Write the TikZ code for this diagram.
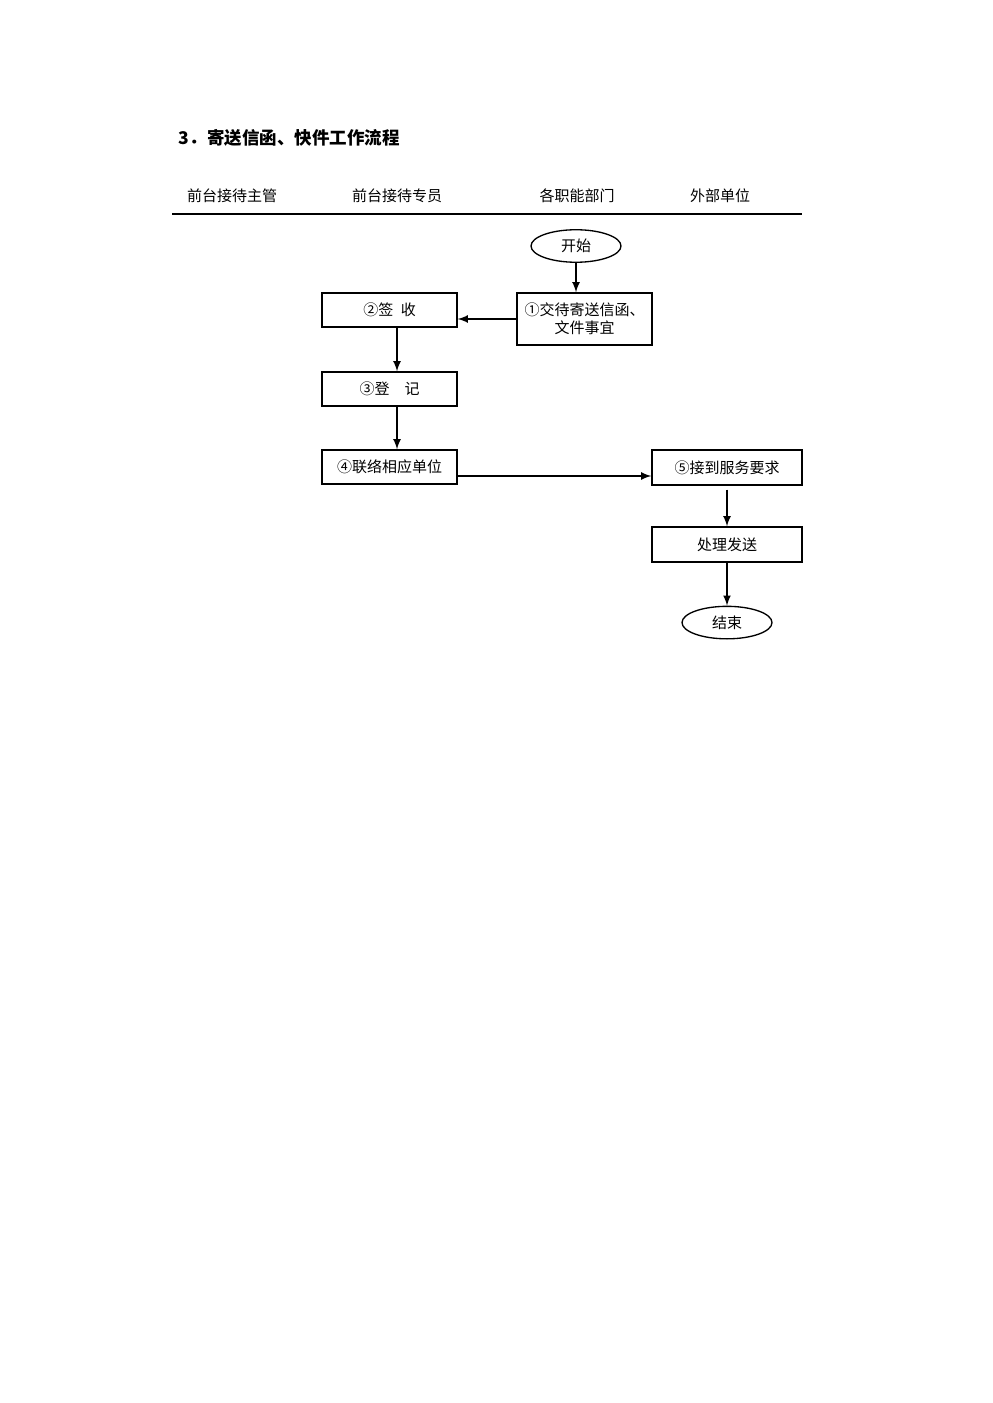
\documentclass[tikz,border=0pt]{standalone}
\usepackage{fontspec}
\newfontfamily\cjk{Noto Sans CJK SC}
\usetikzlibrary{arrows,shapes,positioning}
\begin{document}
\begin{tikzpicture}[x=0.6pt, y=-0.6pt, node distance=26.2pt,
                    font=\cjk\fontsize{9}{10.5}\selectfont]
        \tikzstyle{block} = [rectangle, draw, line width=0.8pt, inner sep=0pt,
                             minimum width=81pt, minimum height=20.4pt,
                             align=center]
        \tikzstyle{wide} = [block, minimum width=90pt, minimum height=21pt]
        \tikzstyle{term} = [ellipse, draw, line width=0.8pt, inner sep=0pt,
                            minimum width=54pt, minimum height=19.5pt]
        \tikzstyle{arrow} = [draw, -latex, line width=1.1pt]
        \useasboundingbox (0,0) rectangle (992,1403);
        \node[anchor=west, font=\cjk\bfseries\fontsize{10.5}{12}\selectfont]
          (title) at (173,138) {3．寄送信函、快件工作流程};
        % swim lanes
        \node (chief) at (232,196) {前台接待主管};
        \node (clerk) at (397,196) {前台接待专员};
        \node (dept) at (577,196) {各职能部门};
        \node (outer) at (720,196) {外部单位};
        \draw[line width=0.9pt] (172,214) -- (802,214);
        \node[term] (start) at (576,246) {开始};
        \node[block, minimum height=31.2pt] (hand) at (584.5,319)
          {①交待寄送信函、\\文件事宜};
        \path[arrow] (start.south) -- (start.south |- hand.north);
        \node[block] (sign) at (389.5,310) {②签\hspace{0.5em}收};
        \path[arrow] (hand.west) -- (hand.west -| sign.east);
        \node[block, below=of sign] (record) {③登\hspace{1em}记};
        \path[arrow] ([xshift=4.5pt]sign.south) -- ([xshift=4.5pt]record.north);
        \node[block, below=25.6pt of record] (contact) {④联络相应单位};
        \path[arrow] ([xshift=4.5pt]record.south) -- ([xshift=4.5pt]contact.north);
        \node[wide] (receive) at (727,467.5) {⑤接到服务要求};
        \path[arrow] ([yshift=-5.4pt]contact.east)
                     -- ([yshift=-5.4pt]contact.east -| receive.west);
        \node[wide, below=24.4pt of receive] (send) {处理发送};
        \path[arrow] ([yshift=-2.4pt]receive.south) -- (send);
        \node[term, below=25.8pt of send] (stop) {结束};
        \path[arrow] (send) -- (stop);
      \end{tikzpicture}
\end{document}
